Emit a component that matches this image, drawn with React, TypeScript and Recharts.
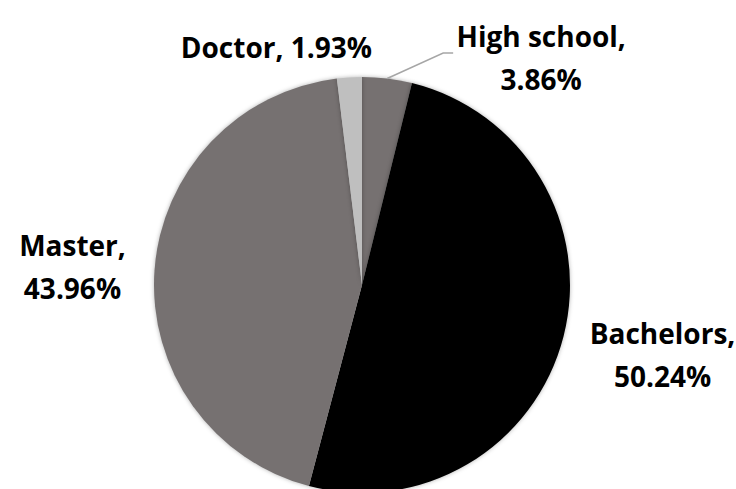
import React from "react";
import { PieChart, Pie, Cell } from "recharts";

const levels = ["High school", "Bachelors", "Master", "Doctor"];
const shares = [3.86, 50.24, 43.96, 1.93];
const sliceColors = ["#767171", "#000000", "#767171", "#bfbfbf"];

const data = levels.map((name, i) => ({ name, value: shares[i] }));

// label placement relative to the slice's point on the rim
const labelLayout: Record<string, { dx: number; dy: number; split: boolean; leader?: boolean }> = {
  "High school": { dx: 154, dy: -32, split: true, leader: true },
  Bachelors: { dx: 99, dy: 7, split: true },
  Master: { dx: -82, dy: -15, split: true },
  Doctor: { dx: -73, dy: -19, split: false },
};

const RADIAN = Math.PI / 180;

const renderLabel = (props: any) => {
  const { cx, cy, midAngle, outerRadius, name, value } = props;
  const x0 = cx + outerRadius * Math.cos(-midAngle * RADIAN);
  const y0 = cy + outerRadius * Math.sin(-midAngle * RADIAN);
  const lay = labelLayout[name];
  const tx = x0 + lay.dx;
  const ty = y0 + lay.dy;
  const pct = `${Number(value).toFixed(2)}%`;
  const textStyle = {
    fontFamily: "'Open Sans', sans-serif",
    fontWeight: 700,
    fontSize: 28,
    fill: "#000",
  };
  return (
    <g key={`lbl-${name}`}>
      {lay.leader && (
        <polyline
          points={`${x0},${y0} ${x0 + 56},${y0 - 25.5} ${x0 + 66},${y0 - 25.5}`}
          fill="none"
          stroke="#a6a6a6"
          strokeWidth={1.5}
        />
      )}
      {lay.split ? (
        <text x={tx} y={ty} textAnchor="middle" style={textStyle}>
          <tspan x={tx}>{`${name},`}</tspan>
          <tspan x={tx} dy={43}>{pct}</tspan>
        </text>
      ) : (
        <text x={tx} y={ty} textAnchor="middle" style={textStyle}>
          {`${name}, ${pct}`}
        </text>
      )}
    </g>
  );
};

const App = () => {
  return (
    <div style={{ position: "absolute", left: 0, top: 0, background: "#fff" }}>
      <PieChart width={736} height={489}>
        <Pie
          data={data}
          dataKey="value"
          nameKey="name"
          cx={357}
          cy={280}
          outerRadius={208}
          startAngle={90}
          endAngle={-270}
          stroke="none"
          label={renderLabel}
          labelLine={false}
          isAnimationActive={false}
        >
          {data.map((d, i) => (
            <Cell
              key={d.name}
              fill={sliceColors[i]}
              style={{ filter: "drop-shadow(0 0 2px rgba(0,0,0,0.3))" }}
            />
          ))}
        </Pie>
      </PieChart>
    </div>
  );
};

export default App;
